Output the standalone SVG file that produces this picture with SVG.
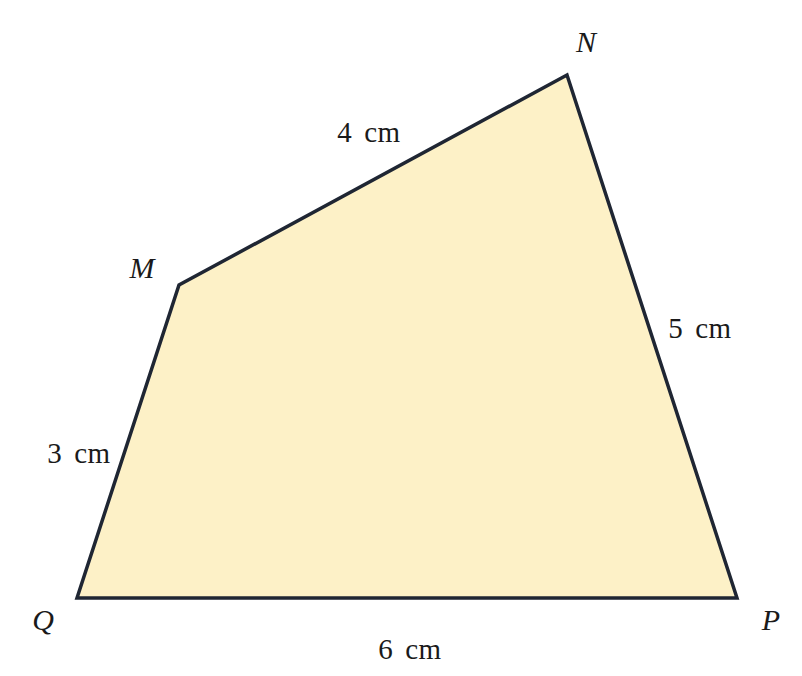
<svg xmlns="http://www.w3.org/2000/svg" width="802" height="676" viewBox="0 0 802 676">
<style>
.lbl{font-family:"Liberation Serif","DejaVu Serif",serif;font-size:29px;fill:#1a1a1a}
.it{font-style:italic;font-size:30px}
.m{word-spacing:4px;letter-spacing:0.6px}
</style>
<rect width="802" height="676" fill="#ffffff"/>
<g id="quad">
<polygon points="77,598 737,598 567,75 179,285" fill="#fdf1c7" stroke="#1f2633" stroke-width="3.5" stroke-linejoin="miter"/>
</g>
<g id="labels">
<text class="lbl it" x="586" y="52" text-anchor="middle">N</text>
<text class="lbl it" x="142" y="278" text-anchor="middle">M</text>
<text class="lbl it" x="43" y="630" text-anchor="middle">Q</text>
<text class="lbl it" x="771" y="630" text-anchor="middle">P</text>
<text class="lbl m" x="369" y="142" text-anchor="middle">4 cm</text>
<text class="lbl m" x="700" y="338" text-anchor="middle">5 cm</text>
<text class="lbl m" x="79" y="463" text-anchor="middle">3 cm</text>
<text class="lbl m" x="410" y="659" text-anchor="middle">6 cm</text>
</g>
</svg>
